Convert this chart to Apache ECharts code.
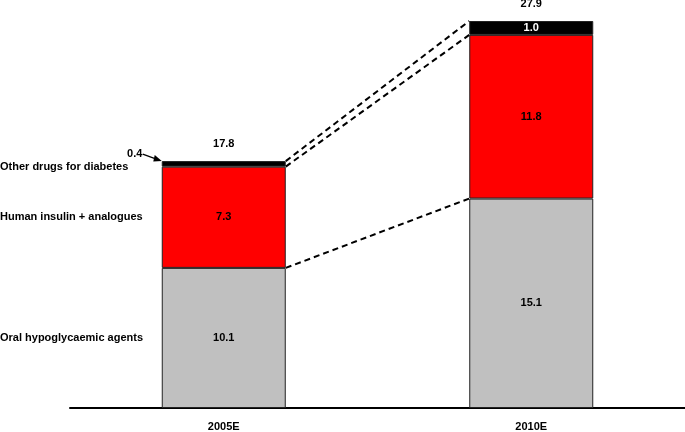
<!DOCTYPE html>
<html>
<head>
<meta charset="utf-8">
<script src="https://cdn.jsdelivr.net/npm/echarts@6/dist/echarts.min.js"></script>
<style>
  html, body { margin: 0; padding: 0; background: #fff; }
  #chart { width: 685px; height: 432px; }
</style>
</head>
<body>
<div id="chart"></div>
<script>
// data
const categories = ['2005E', '2010E']
const seriesNames = ['Oral hypoglycaemic agents', 'Human insulin + analogues', 'Other drugs for diabetes']
const oralValues = [10.1, 15.1]
const insulinValues = [7.3, 11.8]
const otherValues = [0.4, 1.0]
const totals = [17.8, 27.9]

const barWidth = 124
const font = 'bold 11px "Liberation Sans", Arial, sans-serif'

// cumulative tops of each segment per category
const stackTops = categories.map((c, i) => [
  oralValues[i],
  oralValues[i] + insulinValues[i],
  totals[i]
])

const chart = echarts.init(document.getElementById('chart'))

function renderNotes (params, api) {
  const half = barWidth / 2
  const children = []
  // dashed connectors between the two bars
  for (let k = 0; k < 3; k++) {
    const a = api.coord([0, stackTops[0][k]])
    const b = api.coord([1, stackTops[1][k]])
    children.push({
      type: 'line',
      shape: { x1: a[0] + half, y1: a[1], x2: b[0] - half, y2: b[1] },
      style: { stroke: '#000', lineWidth: 2, lineDash: [6, 4] }
    })
  }
  // totals above bars
  categories.forEach((c, i) => {
    const p = api.coord([i, totals[i]])
    children.push({
      type: 'text',
      style: { text: totals[i].toFixed(1), x: p[0], y: p[1] - 17, font: font, fill: '#000', align: 'center', verticalAlign: 'middle' }
    })
  })
  // series names on the left, level with the 2005E segments
  const mids = [
    api.coord([0, stackTops[0][0] / 2]),
    api.coord([0, (stackTops[0][0] + stackTops[0][1]) / 2]),
    api.coord([0, stackTops[0][1]])
  ]
  seriesNames.forEach((name, k) => {
    children.push({
      type: 'text',
      style: { text: name, x: 0, y: mids[k][1], font: font, fill: '#000', align: 'left', verticalAlign: 'middle' }
    })
  })
  // small 2005E "other" value with arrow
  const top0 = api.coord([0, totals[0]])
  const tip = [top0[0] - half, top0[1]]
  const tail = [tip[0] - 19, tip[1] - 7]
  children.push({
    type: 'line',
    shape: { x1: tail[0], y1: tail[1], x2: tip[0] - 4, y2: tip[1] - 1.5 },
    style: { stroke: '#000', lineWidth: 1.2 }
  })
  children.push({
    type: 'polygon',
    shape: { points: [[tip[0], tip[1]], [tip[0] - 7, tip[1] - 6], [tip[0] - 8.5, tip[1] + 0.5]] },
    style: { fill: '#000' }
  })
  children.push({
    type: 'text',
    style: { text: otherValues[0].toFixed(1), x: tip[0] - 27, y: tip[1] - 7, font: font, fill: '#000', align: 'center', verticalAlign: 'middle' }
  })
  return { type: 'group', children: children }
}

const segLabel = {
  show: true,
  position: 'inside',
  color: '#000',
  fontWeight: 'bold',
  fontSize: 11,
  fontFamily: '"Liberation Sans", Arial, sans-serif',
  formatter: p => p.value.toFixed(1)
}

chart.setOption({
  animation: false,
  grid: { left: 70, right: 0, top: 21, bottom: 21, containLabel: false },
  xAxis: {
    type: 'category',
    data: categories,
    axisLine: { lineStyle: { color: '#000', width: 2 } },
    axisTick: { show: false },
    axisLabel: {
      color: '#000',
      fontWeight: 'bold',
      fontSize: 11,
      fontFamily: '"Liberation Sans", Arial, sans-serif',
      margin: 13
    }
  },
  yAxis: {
    type: 'value',
    min: 0,
    max: Math.max(...totals),
    show: false
  },
  series: [
    {
      name: seriesNames[0],
      type: 'bar',
      stack: 'total',
      barWidth: barWidth,
      data: oralValues,
      itemStyle: { color: '#c0c0c0', borderColor: '#222', borderWidth: 1 },
      label: segLabel
    },
    {
      name: seriesNames[1],
      type: 'bar',
      stack: 'total',
      barWidth: barWidth,
      data: insulinValues,
      itemStyle: { color: '#ff0000', borderColor: '#222', borderWidth: 1 },
      label: segLabel
    },
    {
      name: seriesNames[2],
      type: 'bar',
      stack: 'total',
      barWidth: barWidth,
      data: otherValues.map((v, i) => ({
        value: v,
        label: { show: i > 0 }
      })),
      itemStyle: { color: '#000', borderColor: '#222', borderWidth: 1 },
      label: Object.assign({}, segLabel, { color: '#fff' })
    },
    {
      type: 'custom',
      silent: true,
      clip: false,
      z: 10,
      data: [[0, 0]],
      renderItem: renderNotes
    }
  ]
})
</script>
</body>
</html>
